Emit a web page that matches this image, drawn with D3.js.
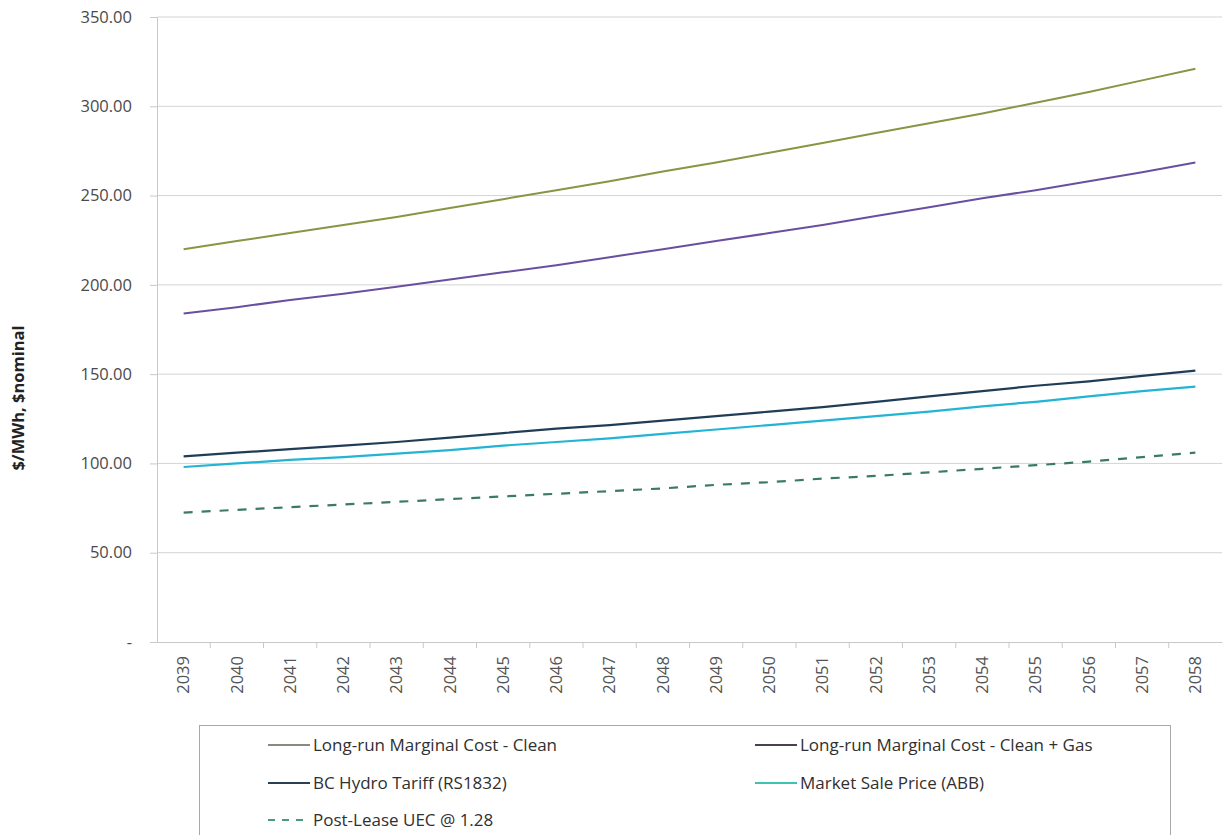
<!DOCTYPE html>
<html><head><meta charset="utf-8">
<script src="https://cdn.jsdelivr.net/npm/d3@7"></script>
<style>body{margin:0;background:#fff;}svg{display:block;font-family:"Open Sans",sans-serif;}</style>
</head><body>
<svg id="c" width="1225" height="835"></svg>
<script>
const years = ["2039","2040","2041","2042","2043","2044","2045","2046","2047","2048","2049","2050","2051","2052","2053","2054","2055","2056","2057","2058"];
const lrmcClean = [220,224.5,229,233.5,238,243,248,253,258,263.5,268.5,274,279.5,285,290.5,296,302,308,314.5,321];
const lrmcCleanGas = [184,187.5,191.5,195,199,203,207,211,215.5,220,224.5,229,233.5,238.5,243.5,248.5,253,258,263,268.5];
const bcHydro = [104,106,108,110,112,114.5,117,119.5,121.5,124,126.5,129,131.5,134.5,137.5,140.5,143.5,146,149,152];
const marketPrice = [98,100,102,103.5,105.5,107.5,110,112,114,116.5,119,121.5,124,126.5,129,132,134.5,137.5,140.5,143];
const postLease = [72.5,74,75.5,77,78.5,80,81.5,83,84.5,86,88,89.5,91.5,93,95,97,99,101,103.5,106];
const yTicks = [0,50,100,150,200,250,300,350];
const seriesNames = ["Long-run Marginal Cost - Clean","Long-run Marginal Cost - Clean + Gas","BC Hydro Tariff (RS1832)","Market Sale Price (ABB)","Post-Lease UEC @ 1.28"];

const series = [
  {name:seriesNames[0], values:lrmcClean, color:"#8a9444", legendColor:"#8a8a80", dash:null, w:2},
  {name:seriesNames[1], values:lrmcCleanGas, color:"#6a4fa0", legendColor:"#4a4050", dash:null, w:2},
  {name:seriesNames[2], values:bcHydro, color:"#1f3d56", legendColor:"#2a4050", dash:null, w:2.2},
  {name:seriesNames[3], values:marketPrice, color:"#22b4d4", legendColor:"#3cc4b0", dash:null, w:2.2},
  {name:seriesNames[4], values:postLease, color:"#3a7a66", legendColor:"#4a9a80", dash:"9,9", w:2.2}
];

const svg = d3.select("#c");
const L = 157, R = 1222, T = 17, B = 642;
const x = d3.scaleBand().domain(years).range([L, R]);
const y = d3.scaleLinear().domain([0,350]).range([B, T]);

// gridlines
svg.append("g").selectAll("line").data(yTicks.filter(d=>d>0)).join("line")
  .attr("x1", L).attr("x2", R).attr("y1", d=>y(d)).attr("y2", d=>y(d))
  .attr("stroke", "#d4d4d4").attr("stroke-width", 1);

// y axis
const yAxis = d3.axisLeft(y).tickValues(yTicks).tickSize(7).tickPadding(18)
  .tickFormat(d => d === 0 ? "-" : d3.format(".2f")(d));
const gy = svg.append("g").attr("transform", `translate(${L},0)`).call(yAxis);
gy.select(".domain").attr("stroke", "#c8c8c8");
gy.selectAll(".tick line").attr("stroke", "#c8c8c8");
gy.selectAll(".tick text").attr("fill", "#4a4a4a").style("font-size", "16.5px").style("font-family","Open Sans");

// x axis
const xAxis = d3.axisBottom(x).tickSize(0).tickPadding(10);
const gx = svg.append("g").attr("transform", `translate(0,${B})`).call(xAxis);
gx.select(".domain").attr("stroke", "#c8c8c8");
gx.selectAll(".tick text").attr("fill", "#555").style("font-size", "16.5px").style("font-family","Open Sans")
  .attr("transform", "rotate(-90)").attr("text-anchor", "end")
  .attr("x", -14).attr("y", 0).attr("dy", "0.35em");
// category boundary ticks
svg.append("g").selectAll("line").data(years.slice(1)).join("line")
  .attr("x1", d=>x(d)).attr("x2", d=>x(d)).attr("y1", B).attr("y2", B+6)
  .attr("stroke", "#c8c8c8");

// y title
svg.append("text").attr("transform", "translate(18,398) rotate(-90)")
  .attr("text-anchor", "middle").attr("dy", "0.35em")
  .style("font-size", "16.5px").style("font-weight", "bold").attr("fill", "#222")
  .text("$/MWh, $nominal");

// lines
const line = d3.line().x((d,i)=>x(years[i]) + x.bandwidth()/2).y(d=>y(d));
svg.append("g").selectAll("path").data(series).join("path")
  .attr("d", d=>line(d.values)).attr("fill","none")
  .attr("stroke", d=>d.color).attr("stroke-width", d=>d.w)
  .attr("stroke-dasharray", d=>d.dash);

// legend
const lg = svg.append("g");
lg.append("rect").attr("x", 199.5).attr("y", 725.5).attr("width", 971).attr("height", 120)
  .attr("fill", "#fff").attr("stroke", "#a8a8a8").attr("stroke-width", 1);
const pos = [[268,745],[755,745],[268,783],[755,783],[268,820]];
series.forEach((s,i)=>{
  const [px,py] = pos[i];
  lg.append("line").attr("x1", px).attr("x2", px+42).attr("y1", py).attr("y2", py)
    .attr("stroke", s.legendColor).attr("stroke-width", 2).attr("stroke-dasharray", s.dash ? "7,7" : null);
  lg.append("text").attr("x", px+45).attr("y", py).attr("dy","0.35em")
    .style("font-size","17px").attr("fill","#303030").text(s.name);
});
</script>
</body></html>
